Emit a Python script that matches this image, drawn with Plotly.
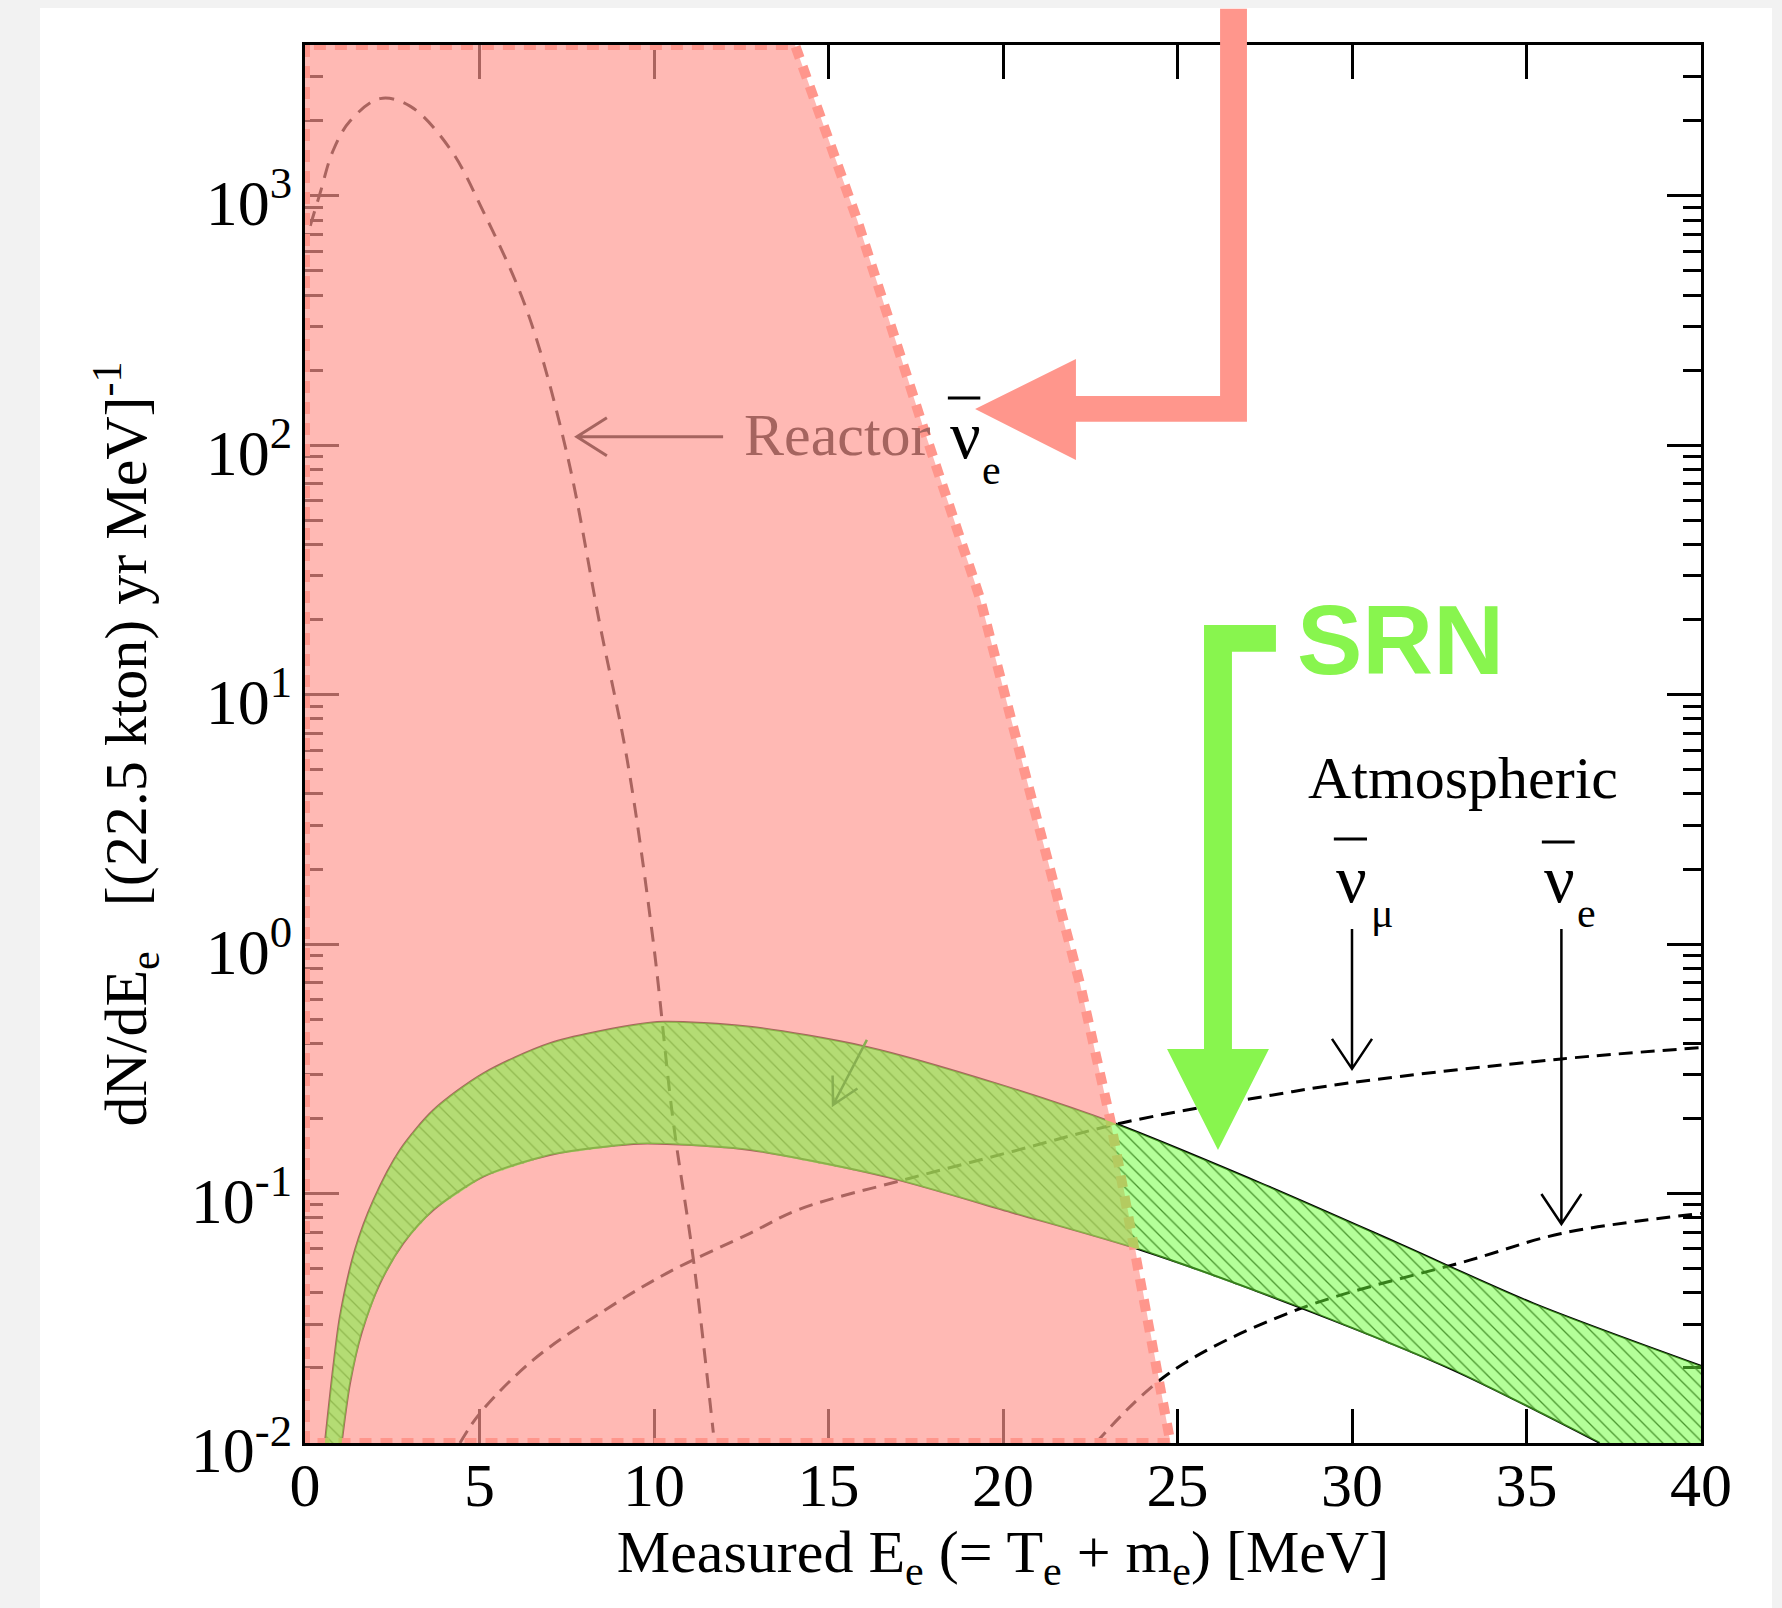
import math
import plotly.graph_objects as go

# ---------------------------------------------------------------
# Values
# ---------------------------------------------------------------
# Reactor anti-nu_e region: right-hand boundary (E [MeV], dN/dE)
reactor_edge_E = [14.04, 15.82, 17.71, 19.34, 20.86, 22.21, 23.07, 23.72, 24.80]
reactor_edge_rate = [4030, 802, 118.6, 24.4, 3.65, 0.69, 0.199, 0.0676, 0.0100]

# Reactor anti-nu_e spectrum (dashed)
reactor_E = [0.15, 0.43, 0.80, 1.29, 2.15, 3.01, 4.15, 5.10, 6.36, 7.50,
             8.45, 9.23, 9.97, 10.54, 11.13, 11.70]
reactor_rate = [759, 1023, 1514, 1995, 2455, 2291, 1549, 871, 347, 93.3,
                19.1, 5.50, 1.047, 0.200, 0.0542, 0.0110]

# SRN band: upper and lower edges
srn_upper_E = [0.57, 0.81, 1.00, 1.43, 1.96, 2.72, 3.68, 5.11, 7.02, 9.41,
               10.27, 12.75, 16.10, 19.78, 23.18, 27.38, 31.30, 35.20, 40.00]
srn_upper_rate = [0.0100, 0.0202, 0.0321, 0.0594, 0.0942, 0.1496, 0.2163, 0.3034,
                  0.4009, 0.4742, 0.4887, 0.4667, 0.3873, 0.2773, 0.1919, 0.1102,
                  0.0634, 0.0363, 0.0204]
srn_lower_E = [1.05, 1.29, 1.62, 2.15, 2.82, 3.68, 5.11, 7.02, 9.41, 10.36,
               12.75, 16.65, 20.30, 23.95, 28.70, 32.90, 37.10]
srn_lower_rate = [0.0100, 0.01734, 0.02754, 0.04365, 0.06324, 0.0859, 0.1169,
                  0.1429, 0.1581, 0.1581, 0.1496, 0.1167, 0.0836, 0.0594, 0.0341,
                  0.0196, 0.0100]

# Atmospheric backgrounds (dashed)
atm_numu_E = [4.44, 5.01, 6.54, 8.45, 10.36, 12.75, 14.18, 17.16, 20.30, 23.40,
              27.10, 30.00, 36.00, 40.00]
atm_numu_rate = [0.0100, 0.01315, 0.02153, 0.0331, 0.0479, 0.0693, 0.0867, 0.1135,
                 0.1479, 0.1919, 0.2399, 0.2786, 0.3467, 0.3846]
atm_nue_E = [22.66, 24.76, 28.40, 33.40, 36.00, 40.00]
atm_nue_rate = [0.0100, 0.01905, 0.0341, 0.0542, 0.0692, 0.0832]

# Axes
x_tick_vals = [0, 5, 10, 15, 20, 25, 30, 35, 40]
x_tick_text = ["0", "5", "10", "15", "20", "25", "30", "35", "40"]
y_tick_vals = [0.01, 0.1, 1, 10, 100, 1000]
y_tick_text = ["10<sup>-2</sup>", "10<sup>-1</sup>", "10<sup>0</sup>",
               "10<sup>1</sup>", "10<sup>2</sup>", "10<sup>3</sup>"]
x_title = "Measured E<sub>e</sub> (= T<sub>e</sub> + m<sub>e</sub>) [MeV]"
y_title = "dN/dE<sub>e</sub>\u00a0\u00a0\u00a0[(22.5 kton) yr MeV]<sup>-1</sup>"

# ---------------------------------------------------------------
# Layout geometry and styles
# ---------------------------------------------------------------
W, H = 1782, 1608
ML, MR, MT, MB = 305, 81, 45, 165
PW, PH = W - ML - MR, H - MT - MB
X_RANGE = [0, 40]
Y_RANGE = [-2.0, 3.605]          # log10 range
Y_MIN = 10 ** Y_RANGE[0]

SERIF = "Liberation Serif, Times New Roman, serif"
SANS = "Liberation Sans, Arial, sans-serif"
BROWN = "rgb(165,100,95)"
SALMON = "#ff968c"
SRN_GREEN = "#88f54e"
BAND_FILL = "rgba(105,255,51,0.5)"          # translucent green band
REACTOR_FILL = "rgba(255,150,142,0.667)"    # translucent reactor region
CLEAR = "rgba(0,0,0,0)"
SPL = dict(shape="spline", smoothing=0.8)


def e2px(E):
    return ML + (E - X_RANGE[0]) / (X_RANGE[1] - X_RANGE[0]) * PW


def l2py(L):
    return MT + (Y_RANGE[1] - L) / (Y_RANGE[1] - Y_RANGE[0]) * PH


def px2paper(px, py):
    return (px - ML) / PW, (H - MB - py) / PH


def d2paper(E, L):
    return px2paper(e2px(E), l2py(L))


def poly_path(pts_paper):
    return "M " + " L ".join(f"{x:.5f},{y:.5f}" for x, y in pts_paper) + " Z"


def open_arrow(E0, L0, E1, L1, head_len, head_half):
    x0, y0 = e2px(E0), l2py(L0)
    x1, y1 = e2px(E1), l2py(L1)
    d = math.hypot(x1 - x0, y1 - y0)
    ux, uy = (x1 - x0) / d, (y1 - y0) / d
    nx, ny = -uy, ux
    h1 = (x1 - ux * head_len + nx * head_half, y1 - uy * head_len + ny * head_half)
    h2 = (x1 - ux * head_len - nx * head_half, y1 - uy * head_len - ny * head_half)
    P = [px2paper(*p) for p in [(x0, y0), (x1, y1), h1, (x1, y1), h2]]
    return (f"M {P[0][0]:.5f},{P[0][1]:.5f} L {P[1][0]:.5f},{P[1][1]:.5f} "
            f"M {P[2][0]:.5f},{P[2][1]:.5f} L {P[3][0]:.5f},{P[3][1]:.5f} "
            f"L {P[4][0]:.5f},{P[4][1]:.5f}")


fig = go.Figure()
NOHOV = dict(hoverinfo="skip", showlegend=False)

# lower boundary of the band region: lower edge, then along the axis to the right end
band_low_x = srn_lower_E + [srn_upper_E[-1]]
band_low_y = srn_lower_rate + [Y_MIN]


def add_band(fillcolor, pattern=None):
    fig.add_trace(go.Scatter(x=band_low_x, y=band_low_y, mode="lines",
                             line=dict(width=0, color=CLEAR), **NOHOV))
    kw = dict(fillpattern=pattern) if pattern else {}
    fig.add_trace(go.Scatter(x=srn_upper_E, y=srn_upper_rate, mode="lines",
                             fill="tonexty", fillcolor=fillcolor,
                             line=dict(width=0, color=CLEAR, **SPL), **kw, **NOHOV))


# 1) hatch lines of the SRN band (drawn below everything translucent)
add_band(CLEAR, dict(shape="\\", fgcolor="rgb(40,40,40)", bgcolor=CLEAR,
                     size=9.5, solidity=0.14, fillmode="replace"))

# 2) band outlines
fig.add_trace(go.Scatter(x=srn_upper_E, y=srn_upper_rate, mode="lines",
                         line=dict(color="black", width=2, **SPL), **NOHOV))
fig.add_trace(go.Scatter(x=srn_lower_E, y=srn_lower_rate, mode="lines",
                         line=dict(color="black", width=2, **SPL), **NOHOV))

# 3) atmospheric backgrounds and reactor spectrum
fig.add_trace(go.Scatter(x=atm_numu_E, y=atm_numu_rate, mode="lines",
                         line=dict(color="black", width=3, dash="14px,8px",
                                   shape="spline", smoothing=1.0), **NOHOV))
fig.add_trace(go.Scatter(x=atm_nue_E, y=atm_nue_rate, mode="lines",
                         line=dict(color="black", width=3, dash="14px,8px",
                                   shape="spline", smoothing=1.0), **NOHOV))
fig.add_trace(go.Scatter(x=reactor_E, y=reactor_rate, mode="lines",
                         line=dict(color="black", width=3, dash="15px,10px",
                                   shape="spline", smoothing=1.0), **NOHOV))

# 4) reactor region (translucent) and its dashed border
rx = [0.0, 0.0] + reactor_edge_E + [0.0]
ry = [Y_MIN, reactor_edge_rate[0]] + reactor_edge_rate + [Y_MIN]
fig.add_trace(go.Scatter(x=rx, y=ry, mode="lines", fill="toself",
                         fillcolor=REACTOR_FILL, line=dict(width=0), **NOHOV))
fig.add_trace(go.Scatter(x=rx, y=ry, mode="lines",
                         line=dict(color=SALMON, width=10, dash="12px,9px"), **NOHOV))

# 5) translucent SRN band on top
add_band(BAND_FILL)

# ---------------------------------------------------------------
# Decorations
# ---------------------------------------------------------------
shapes = []
# page white sheet
shapes.append(dict(type="rect", xref="paper", yref="paper", layer="below",
                   x0=(40 - ML) / PW, x1=(1772 - ML) / PW,
                   y0=-(MB + 10) / PH, y1=(H - MB - 8) / PH,
                   fillcolor="white", line=dict(width=0)))

# salmon elbow arrow pointing at the reactor region
salmon_pts = [(19.20, 2.146), (22.09, 2.346), (22.09, 2.198), (26.22, 2.198),
              (26.22, 3.75), (26.99, 3.75), (26.99, 2.094), (22.09, 2.094),
              (22.09, 1.941)]
shapes.append(dict(type="path", xref="paper", yref="paper", layer="above",
                   path=poly_path([d2paper(e, l) for e, l in salmon_pts]),
                   fillcolor=SALMON, line=dict(width=0)))

# green SRN elbow arrow
srn_pts = [(25.76, 1.280), (27.82, 1.280), (27.82, 1.172), (26.56, 1.172),
           (26.56, -0.420), (27.62, -0.420), (26.16, -0.825), (24.70, -0.420),
           (25.76, -0.420)]
shapes.append(dict(type="path", xref="paper", yref="paper", layer="above",
                   path=poly_path([d2paper(e, l) for e, l in srn_pts]),
                   fillcolor=SRN_GREEN, line=dict(width=0)))

# thin annotation arrows
shapes.append(dict(type="path", xref="paper", yref="paper", layer="above",
                   path=open_arrow(30.0, 0.061, 30.0, -0.50, 30, 20),
                   line=dict(color="black", width=2.5)))
shapes.append(dict(type="path", xref="paper", yref="paper", layer="above",
                   path=open_arrow(36.0, 0.061, 36.0, -1.122, 30, 20),
                   line=dict(color="black", width=2.5)))
shapes.append(dict(type="path", xref="paper", yref="paper", layer="above",
                   path=open_arrow(11.98, 2.034, 7.79, 2.034, 30, 19),
                   line=dict(color=BROWN, width=3)))
shapes.append(dict(type="path", xref="paper", yref="paper", layer="above",
                   path=open_arrow(16.10, -0.384, 15.13, -0.645, 26, 14),
                   line=dict(color="rgb(135,175,80)", width=2.5)))

# overbars of the anti-neutrino symbols
for e0, e1, l in [(18.42, 19.35, 2.19), (29.48, 30.43, 0.422), (35.44, 36.38, 0.410)]:
    (x0, y0), (x1, _) = d2paper(e0, l), d2paper(e1, l)
    shapes.append(dict(type="line", xref="paper", yref="paper", layer="above",
                       x0=x0, x1=x1, y0=y0, y1=y0, line=dict(color="black", width=3)))

annotations = []


def add_text(text, E, L, size, color="black", family=SERIF, xanchor="left", bold=False):
    x, y = d2paper(E, L)
    annotations.append(dict(text=f"<b>{text}</b>" if bold else text, x=x, y=y,
                            xref="paper", yref="paper", xanchor=xanchor, yanchor="middle",
                            showarrow=False, font=dict(family=family, size=size, color=color)))


add_text("Reactor", 12.52, 2.04, 60, color=BROWN)
add_text("\u03bd", 18.42, 2.04, 68)
add_text("e", 19.35, 1.90, 42)
add_text("SRN", 28.37, 1.22, 98, color=SRN_GREEN, family=SANS, bold=True)
add_text("Atmospheric", 33.18, 0.665, 60, xanchor="center")
add_text("\u03bd", 29.48, 0.262, 68)
add_text("\u03bc", 30.50, 0.125, 42)
add_text("\u03bd", 35.44, 0.262, 68)
add_text("e", 36.40, 0.125, 42)

axis_common = dict(showgrid=False, zeroline=False, showline=True, linecolor="black",
                   linewidth=3, mirror="ticks", ticks="inside", ticklen=34, tickwidth=2.5,
                   tickcolor="black", layer="below traces")

fig.update_layout(
    width=W, height=H,
    margin=dict(l=ML, r=MR, t=MT, b=MB, autoexpand=False),
    paper_bgcolor="#f2f2f2", plot_bgcolor="white",
    showlegend=False,
    shapes=shapes, annotations=annotations,
    xaxis=dict(range=X_RANGE, tickmode="array", tickvals=x_tick_vals, ticktext=x_tick_text,
               ticklabelstandoff=-14,
               tickfont=dict(family=SERIF, size=62, color="black"),
               title=dict(text=x_title, font=dict(family=SERIF, size=60, color="black"),
                          standoff=0),
               **axis_common),
    yaxis=dict(type="log", range=Y_RANGE, tickmode="array", tickvals=y_tick_vals,
               ticktext=y_tick_text, ticklabelstandoff=-3, ticklabelshift=7,
               tickfont=dict(family=SERIF, size=64, color="black"),
               minor=dict(ticks="inside", ticklen=18, tickwidth=2.5, tickcolor="black",
                          dtick="D1", showgrid=False),
               title=dict(text=y_title, font=dict(family=SERIF, size=60, color="black"),
                          standoff=25),
               **axis_common),
)

fig.write_html("out.html")
